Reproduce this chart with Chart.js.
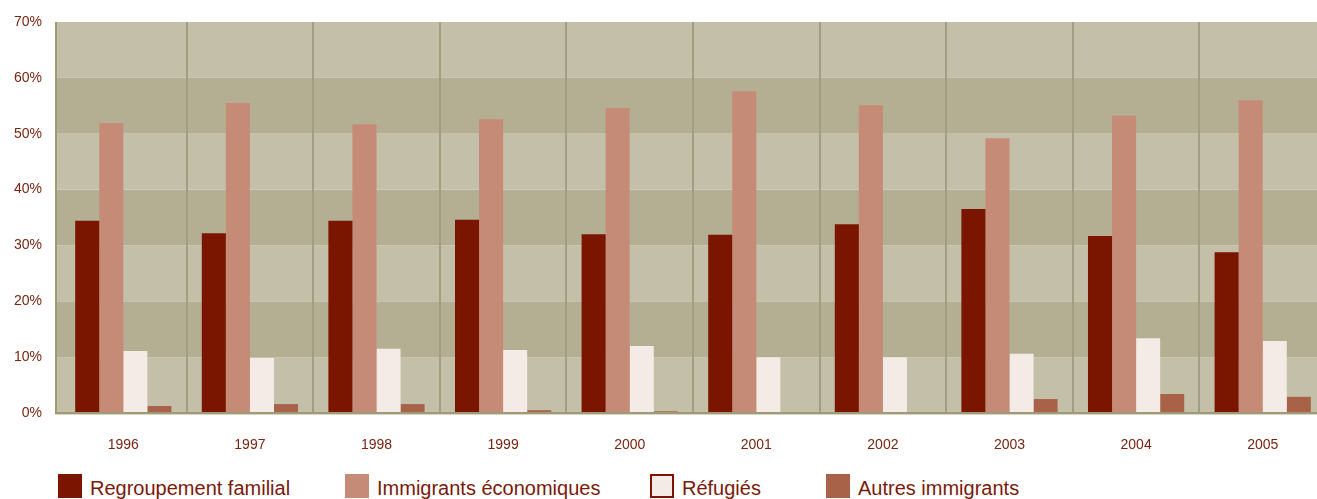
<!DOCTYPE html>
<html lang="fr">
<head>
  <meta charset="UTF-8">
  <title>Immigrants par catégorie</title>
  <script src="https://cdn.jsdelivr.net/npm/chart.js"></script>
  <style>
    html, body { margin: 0; padding: 0; background: #fff; overflow: hidden; }
    .wrap { position: relative; width: 1317px; height: 499px; overflow: hidden; }
    .chart-box { position: absolute; left: 0; top: 0; width: 1326px; height: 460px; }
    .legend { position: absolute; top: 474px; left: 0; height: 25px; font-family: "Liberation Sans", Arial, sans-serif; font-size: 20px; color: #7a1a0a; }
    .legend .item { position: absolute; top: 0; white-space: nowrap; line-height: 26px; }
    .legend .sw { position: absolute; left: 0; top: 0; width: 24px; height: 24px; box-sizing: border-box; }
    .legend .lbl { position: absolute; left: 32px; top: 1px; }
  </style>
</head>
<body>
  <div class="wrap">
    <div class="chart-box"><canvas id="chart"></canvas></div>
    <div class="legend" id="legend"></div>
  </div>
  <script>
    const years = ['1996', '1997', '1998', '1999', '2000', '2001', '2002', '2003', '2004', '2005'];
    const regroupement = [34.4, 32.2, 34.4, 34.6, 32.0, 31.9, 33.8, 36.5, 31.7, 28.8];
    const economiques = [51.9, 55.5, 51.7, 52.6, 54.6, 57.6, 55.1, 49.2, 53.2, 56.0];
    const refugies = [11.1, 9.85, 11.5, 11.3, 12.0, 10.0, 10.0, 10.6, 13.4, 12.9];
    const autres = [1.25, 1.6, 1.6, 0.5, 0.3, 0, 0, 2.5, 3.4, 2.9];
    const seriesNames = ['Regroupement familial', 'Immigrants économiques', 'Réfugiés', 'Autres immigrants'];
    const seriesColors = ['#7a1500', '#c58b76', '#f5ebe6', '#a86248'];
    const legendLeft = [58, 345, 650, 826];

    const textColor = '#7a2412';
    const gridColor = '#a29e80';
    const axisColor = '#9e9a78';

    // alternating horizontal bands behind the bars, plus the two axis lines
    const bandsPlugin = {
      id: 'bands',
      beforeDraw(chart) {
        const { ctx, chartArea, scales: { y } } = chart;
        const left = chartArea.left - 3;
        ctx.save();
        for (let v = 0; v < 70; v += 10) {
          const top = y.getPixelForValue(v + 10);
          const bottom = y.getPixelForValue(v);
          ctx.fillStyle = (v / 10) % 2 === 0 ? '#c4bfa9' : '#b4af92';
          ctx.fillRect(left, top, chartArea.right - left, bottom - top);
        }
        ctx.restore();
      },
      afterDraw(chart) {
        const { ctx, chartArea } = chart;
        ctx.save();
        ctx.fillStyle = axisColor;
        ctx.fillRect(chartArea.left - 5, chartArea.top, 2, chartArea.bottom - chartArea.top + 1);
        ctx.fillRect(chartArea.left - 5, chartArea.bottom - 1, chartArea.right - chartArea.left + 5, 2);
        ctx.fillStyle = '#d9d6c4';
        ctx.fillRect(chartArea.left - 5, chartArea.bottom + 1, chartArea.right - chartArea.left + 5, 1);
        ctx.restore();
      }
    };

    const data = [regroupement, economiques, refugies, autres];
    new Chart(document.getElementById('chart'), {
      type: 'bar',
      data: {
        labels: years,
        datasets: data.map((vals, i) => ({
          label: seriesNames[i],
          data: vals,
          backgroundColor: seriesColors[i],
          borderWidth: 0,
          categoryPercentage: 0.76,
          barPercentage: 1.0
        }))
      },
      options: {
        responsive: true,
        maintainAspectRatio: false,
        animation: false,
        layout: { padding: { top: 22, right: 0, left: 0, bottom: 0 } },
        plugins: {
          legend: { display: false },
          tooltip: { enabled: false }
        },
        scales: {
          x: {
            grid: {
              color: ctx => ctx.index === 0 ? 'rgba(0,0,0,0)' : gridColor,
              lineWidth: 2,
              drawTicks: false,
              offset: true
            },
            border: { display: false },
            ticks: { color: textColor, font: { family: '"Liberation Sans", Arial, sans-serif', size: 14 }, padding: 24 },
            afterFit(scale) { scale.height = 47; scale.paddingLeft = 0; scale.paddingRight = 0; }
          },
          y: {
            min: 0,
            max: 70,
            grid: { display: false, drawTicks: false },
            border: { display: false },
            ticks: {
              stepSize: 10,
              color: textColor,
              font: { family: '"Liberation Sans", Arial, sans-serif', size: 14 },
              padding: 18,
              callback: v => v + '%'
            },
            afterFit(scale) { scale.width = 60; scale.paddingTop = 0; scale.paddingBottom = 0; }
          }
        }
      },
      plugins: [bandsPlugin]
    });

    const legend = document.getElementById('legend');
    seriesNames.forEach((name, i) => {
      const item = document.createElement('div');
      item.className = 'item';
      item.style.left = legendLeft[i] + 'px';
      const sw = document.createElement('span');
      sw.className = 'sw';
      sw.style.background = seriesColors[i];
      if (i === 2) sw.style.border = '2px solid #7a1500';
      const lbl = document.createElement('span');
      lbl.className = 'lbl';
      lbl.textContent = name;
      item.appendChild(sw);
      item.appendChild(lbl);
      legend.appendChild(item);
    });
  </script>
</body>
</html>
